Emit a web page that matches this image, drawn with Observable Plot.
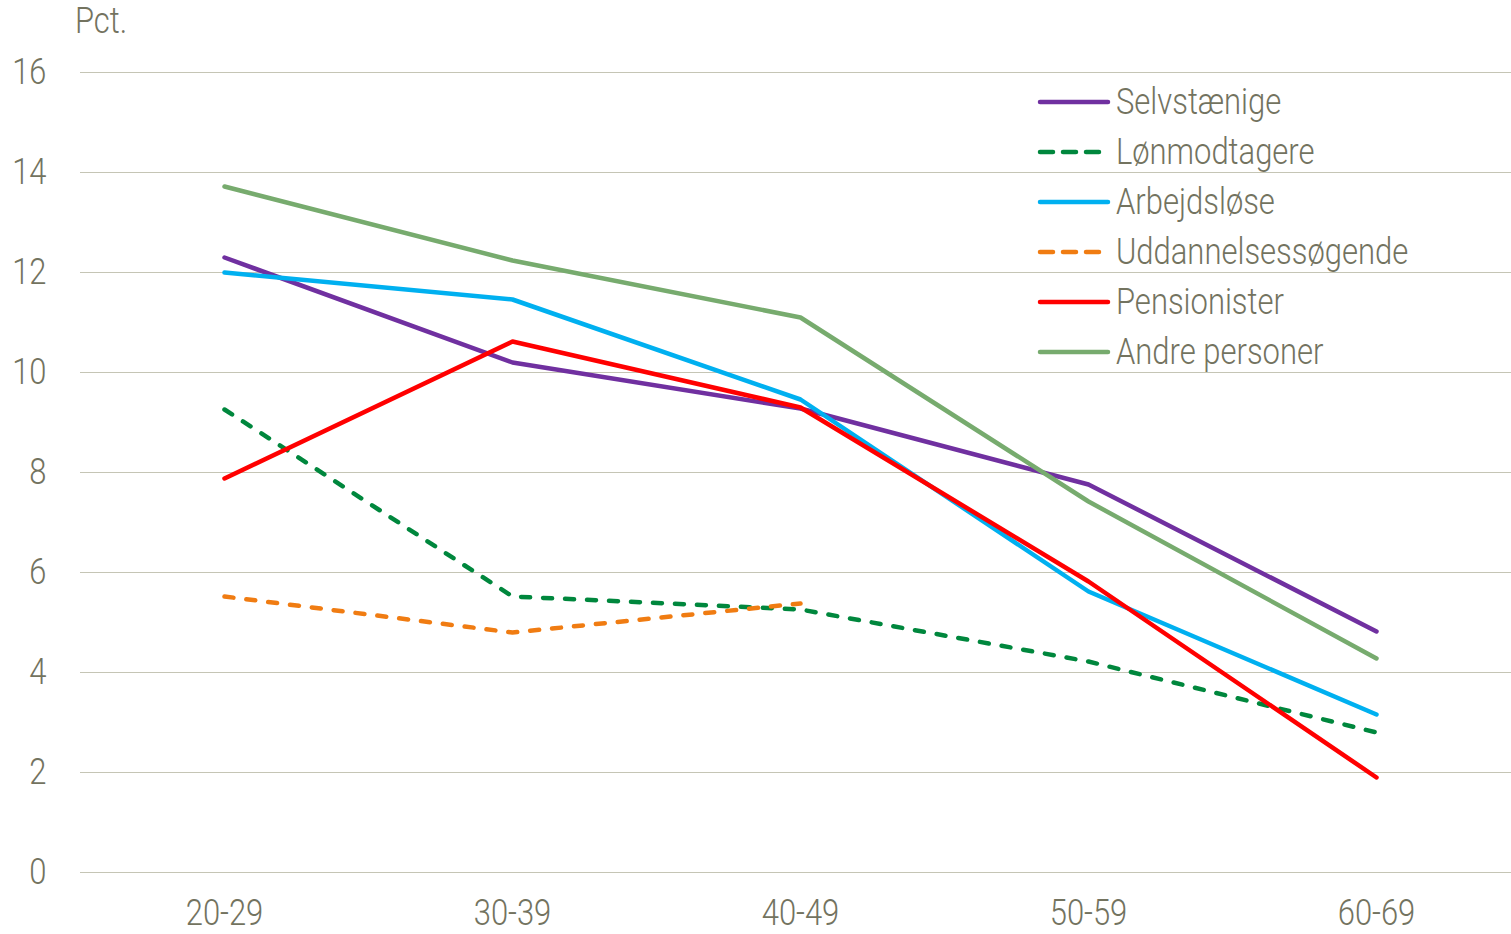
<!DOCTYPE html>
<html><head><meta charset="utf-8">
<script src="https://cdn.jsdelivr.net/npm/d3@7"></script>
<script src="https://cdn.jsdelivr.net/npm/@observablehq/plot@0.6"></script>
<style>
html,body{margin:0;padding:0;background:#fff;}
#wrap{position:relative;width:1511px;height:934px;font-family:Roboto,sans-serif;font-weight:300;color:#73735f;}
#pct{position:absolute;left:75px;top:0px;font-size:36px;transform:scaleX(0.86);transform-origin:left;}
#legend{position:absolute;left:1036px;top:77px;font-size:36px;}
.row{height:50px;display:flex;align-items:center;}
.row svg{margin-right:4px;}
.row span{display:inline-block;transform:scaleX(0.86);transform-origin:left;white-space:nowrap;}
</style></head>
<body><div id="wrap"><div id="pct">Pct.</div><div id="legend"></div></div>
<script>
const ages = ["20-29","30-39","40-49","50-59","60-69"];
const seriesNames = ["Selvstænige","Lønmodtagere","Arbejdsløse","Uddannelsessøgende","Pensionister","Andre personer"];
const selvstaenige = [12.3, 10.2, 9.28, 7.76, 4.82];
const loenmodtagere = [9.26, 5.52, 5.26, 4.22, 2.8];
const arbejdsloese = [12.0, 11.46, 9.46, 5.62, 3.16];
const uddannelse = [5.52, 4.8, 5.38, null, null];
const pensionister = [7.88, 10.62, 9.3, 5.82, 1.9];
const andre = [13.72, 12.24, 11.1, 7.42, 4.28];
const yTicks = [0,2,4,6,8,10,12,14,16];

const colors = ["#7030a0","#00873d","#00b0f0","#f07c12","#ff0000","#77ab6e"];
const dashed = [false,true,false,true,false,false];
const values = [selvstaenige, loenmodtagere, arbejdsloese, uddannelse, pensionister, andre];

const data = [];
seriesNames.forEach((s,i)=>values[i].forEach((v,j)=>{ if(v!=null) data.push({series:s, age:ages[j], value:v}); }));

const lineMarks = seriesNames.map((s,i)=>Plot.line(data.filter(d=>d.series===s), {
  x:"age", y:"value", stroke:colors[i], strokeWidth:4.5,
  strokeDasharray: dashed[i] ? "9,13" : null, strokeLinecap:"round", strokeLinejoin:"round"
}));

const chart = Plot.plot({
  width:1511, height:934,
  marginLeft:80, marginRight:0, marginTop:72, marginBottom:62,
  style:{fontFamily:'Roboto,sans-serif', fontWeight:300, fontSize:"36px", color:"#73735f", background:"transparent"},
  x:{type:"point", domain:ages, range:[223,1376], padding:0, label:null, tickSize:0, tickPadding:27},
  y:{domain:[0,16], ticks:yTicks, label:null, tickSize:0, tickPadding:34},
  marks:[
    Plot.ruleY(yTicks, {stroke:"#c5c5b5", strokeWidth:1.2}),
    ...lineMarks
  ]
});
chart.style.position="absolute"; chart.style.left="0"; chart.style.top="0";
document.getElementById("wrap").prepend(chart);
// horizontally condense tick labels
chart.querySelectorAll("g[aria-label$='tick label'] text").forEach(t=>{
  const w = t.getComputedTextLength();
  t.setAttribute("textLength", (w*0.86).toFixed(1));
  t.setAttribute("lengthAdjust","spacingAndGlyphs");
});

const leg = document.getElementById("legend");
seriesNames.forEach((s,i)=>{
  const row = document.createElement("div"); row.className="row";
  const ln = dashed[i]
    ? `<line x1="4" x2="63" y1="5" y2="5" stroke="${colors[i]}" stroke-width="4.5" stroke-linecap="round" stroke-dasharray="13,10"/>`
    : `<line x1="4" x2="72" y1="5" y2="5" stroke="${colors[i]}" stroke-width="4.5" stroke-linecap="round"/>`;
  row.innerHTML = `<svg width="76" height="10">${ln}</svg><span>${s}</span>`;
  leg.appendChild(row);
});
</script></body></html>
